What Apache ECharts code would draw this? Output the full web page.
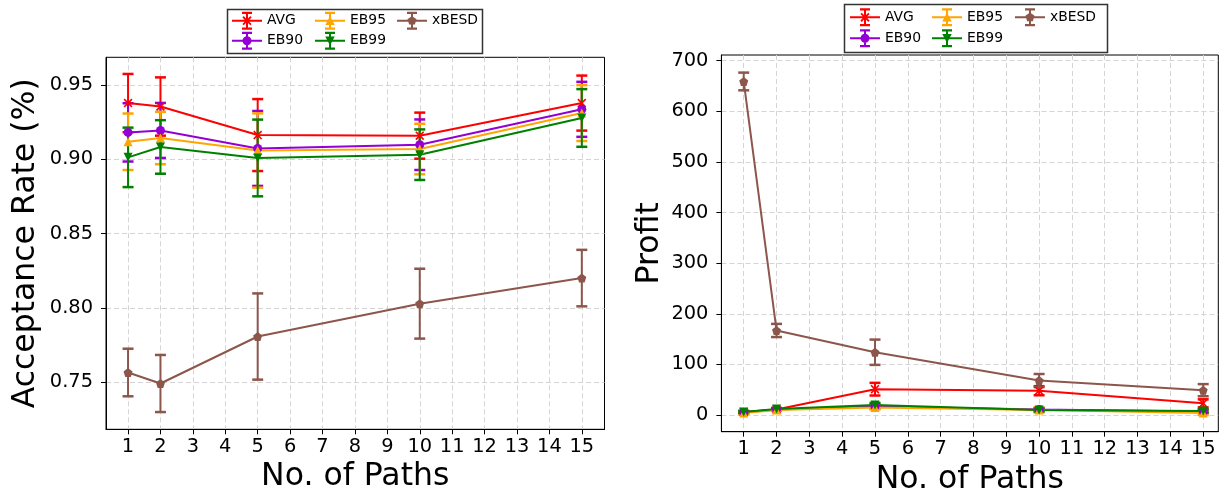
<!DOCTYPE html>
<html>
<head>
<meta charset="utf-8">
<title>Acceptance Rate and Profit vs. No. of Paths</title>
<script src="https://cdn.jsdelivr.net/npm/echarts@6/dist/echarts.min.js"></script>
<style>
  html, body { margin: 0; padding: 0; background: #ffffff; }
  #chart { width: 1227px; height: 494px; }
</style>
</head>
<body>
<div id="chart"></div>
<script>
// ---- data ----
const pathCounts = [1, 2, 5, 10, 15];
const seriesNames = ['AVG', 'EB90', 'EB95', 'EB99', 'xBESD'];

// acceptance rate (mean) and error half-width per method
const accAVG = [0.9377, 0.9354, 0.9162, 0.9158, 0.9377];
const accAVGErr = [0.0196, 0.0196, 0.0242, 0.0155, 0.0185];
const accEB90 = [0.9180, 0.9193, 0.9072, 0.9097, 0.9335];
const accEB90Err = [0.0196, 0.0185, 0.0252, 0.0170, 0.0185];
const accEB95 = [0.9117, 0.9142, 0.9058, 0.9068, 0.9310];
const accEB95Err = [0.0190, 0.0176, 0.0250, 0.0170, 0.0188];
const accEB99 = [0.9012, 0.9082, 0.9008, 0.9030, 0.9277];
const accEB99Err = [0.0200, 0.0180, 0.0258, 0.0170, 0.0194];
const accXBESD = [0.7565, 0.7491, 0.7807, 0.8028, 0.8200];
const accXBESDErr = [0.0160, 0.0192, 0.0290, 0.0235, 0.0190];

// profit (mean) and error half-width per method
const profAVG = [6, 11, 51, 48, 23];
const profAVGErr = [2, 2, 12.5, 9, 8];
const profEB90 = [5, 11, 17, 11, 7];
const profEB90Err = [2, 2, 4, 3, 3];
const profEB95 = [4, 10, 15, 10, 4];
const profEB95Err = [2, 2, 4, 5, 4];
const profEB99 = [6, 12, 20, 10, 8];
const profEB99Err = [2, 2, 4, 3, 3];
const profXBESD = [659, 167, 124, 68, 49];
const profXBESDErr = [17.5, 13, 25, 13, 12];

// tick labels
const xTicks = [1, 2, 3, 4, 5, 6, 7, 8, 9, 10, 11, 12, 13, 14, 15];
const accTicks = [0.75, 0.80, 0.85, 0.90, 0.95];
const profitTicks = [0, 100, 200, 300, 400, 500, 600, 700];

// ---- styling ----
const FONT = 'DejaVu Sans';
const colors = { AVG: '#ff0000', EB90: '#9400d3', EB95: '#ffa500', EB99: '#008000', xBESD: '#8c564b' };

// "x" marker outline centred on (cx, cy), half-size s, bar offset d
function xShape(cx, cy, s, d) {
  const pts = [[-s, -s + d], [-s + d, -s], [0, -d], [s - d, -s], [s, -s + d], [d, 0],
               [s, s - d], [s - d, s], [0, d], [-s + d, s], [-s, s - d], [-d, 0]];
  return 'M' + pts.map(p => (cx + p[0]).toFixed(2) + ',' + (cy + p[1]).toFixed(2)).join(' L') + ' Z';
}
function pentagonShape(cx, cy, r) {
  const pts = [];
  for (let k = 0; k < 5; k++) {
    const a = (-90 + 72 * k) * Math.PI / 180;
    pts.push([cx + r * Math.cos(a), cy + r * Math.sin(a)]);
  }
  return 'M' + pts.map(p => p[0].toFixed(2) + ',' + p[1].toFixed(2)).join(' L') + ' Z';
}

const markerSymbols = {
  AVG: 'path://' + xShape(5, 5, 5, 1.3),
  EB90: 'circle',
  EB95: 'triangle',
  EB99: 'triangle',
  xBESD: 'path://' + pentagonShape(5, 5, 5)
};
const markerRotate = { AVG: 0, EB90: 0, EB95: 0, EB99: 180, xBESD: 0 };

// legend glyph: line + error bar with caps + marker, in a 30x18 box
const legendBase = 'M0,8 H30 V10 H0 Z M14,1 H16 V17 H14 Z M10,0 H20 V2.3 H10 Z M10,15.7 H20 V18 H10 Z ';
const legendMarks = {
  AVG: xShape(15, 9, 4.6, 1.3),
  EB90: 'M15,4.5 A4.5,4.5 0 1 1 15,13.5 A4.5,4.5 0 1 1 15,4.5 Z',
  EB95: 'M15,4.3 L19.7,13.3 L10.3,13.3 Z',
  EB99: 'M10.3,4.7 L19.7,4.7 L15,13.7 Z',
  xBESD: pentagonShape(15, 9, 4.8)
};
const legendIcon = name => 'path://' + legendBase + legendMarks[name];

// ---- series builders ----
function errorBars(name, vals, errs, gi) {
  const color = colors[name];
  return {
    type: 'custom', name: name, xAxisIndex: gi, yAxisIndex: gi, silent: true,
    data: pathCounts.map((x, i) => [x, vals[i], errs[i]]),
    encode: { x: 0, y: 1 },
    itemStyle: { color: color },
    renderItem: function (params, api) {
      const x = api.value(0), y = api.value(1), e = api.value(2);
      const hi = api.coord([x, y + e]);
      const lo = api.coord([x, y - e]);
      const cw = 5.5;
      return {
        type: 'group',
        children: [
          { type: 'line', shape: { x1: hi[0], y1: hi[1], x2: lo[0], y2: lo[1] }, style: { stroke: color, lineWidth: 2 } },
          { type: 'line', shape: { x1: hi[0] - cw, y1: hi[1], x2: hi[0] + cw, y2: hi[1] }, style: { stroke: color, lineWidth: 2.5 } },
          { type: 'line', shape: { x1: lo[0] - cw, y1: lo[1], x2: lo[0] + cw, y2: lo[1] }, style: { stroke: color, lineWidth: 2.5 } }
        ]
      };
    }
  };
}
function meanLine(name, vals, gi) {
  const color = colors[name];
  return {
    type: 'line', name: name, xAxisIndex: gi, yAxisIndex: gi, silent: true,
    data: pathCounts.map((x, i) => [x, vals[i]]),
    symbol: markerSymbols[name], symbolSize: 9, symbolRotate: markerRotate[name],
    showAllSymbol: true,
    lineStyle: { color: color, width: 2 },
    itemStyle: { color: color, borderWidth: 0 }
  };
}

const accData = { AVG: [accAVG, accAVGErr], EB90: [accEB90, accEB90Err], EB95: [accEB95, accEB95Err],
                  EB99: [accEB99, accEB99Err], xBESD: [accXBESD, accXBESDErr] };
const profData = { AVG: [profAVG, profAVGErr], EB90: [profEB90, profEB90Err], EB95: [profEB95, profEB95Err],
                   EB99: [profEB99, profEB99Err], xBESD: [profXBESD, profXBESDErr] };

const series = [];
seriesNames.forEach(n => { series.push(meanLine(n, accData[n][0], 0)); series.push(errorBars(n, accData[n][0], accData[n][1], 0)); });
seriesNames.forEach(n => { series.push(meanLine(n, profData[n][0], 1)); series.push(errorBars(n, profData[n][0], profData[n][1], 1)); });

// ---- axes ----
const TITLE_SIZE = 31.5;
function xAxisFor(gi, max) {
  return {
    type: 'value', gridIndex: gi, min: 0.32, max: max,
    name: 'No. of Paths', nameLocation: 'middle', nameGap: 29,
    nameTextStyle: { fontFamily: FONT, fontSize: TITLE_SIZE, color: '#000' },
    axisLine: { show: true, onZero: false, lineStyle: { color: '#000', width: 1 } },
    axisTick: { show: true, length: 5, customValues: xTicks, lineStyle: { color: '#000', width: 1 } },
    axisLabel: { customValues: xTicks, fontFamily: FONT, fontSize: 19.4, color: '#000', margin: 8 },
    splitLine: { show: true, lineStyle: { color: '#d4d4d4', width: 1, type: [5, 3] } }
  };
}
function yAxisFor(gi, min, max, ticks, title, gap, fmt) {
  return {
    type: 'value', gridIndex: gi, min: min, max: max,
    name: title, nameLocation: 'middle', nameGap: gap,
    nameTextStyle: { fontFamily: FONT, fontSize: TITLE_SIZE, color: '#000' },
    axisLine: { show: true, onZero: false, lineStyle: { color: '#000', width: 1 } },
    axisTick: { show: true, length: 5, customValues: ticks, lineStyle: { color: '#000', width: 1 } },
    axisLabel: { customValues: ticks, fontFamily: FONT, fontSize: 19.4, color: '#000', margin: 13, formatter: fmt },
    splitLine: { show: true, lineStyle: { color: '#d4d4d4', width: 1, type: [5, 3] } }
  };
}

// ---- legends: three columns per panel ----
function legendColumn(names, left, top, gap) {
  return {
    orient: 'vertical', left: left, top: top, padding: 0,
    itemWidth: 30, itemHeight: 18, itemGap: gap, selectedMode: false,
    itemStyle: { borderWidth: 0 },
    textStyle: { fontFamily: FONT, fontSize: 13.9, color: '#000' },
    data: names.map(n => ({ name: n, icon: legendIcon(n) }))
  };
}

const option = {
  animation: false,
  backgroundColor: '#ffffff',
  grid: [
    { left: 106, right: 1227 - 604.5, top: 57.3, bottom: 494 - 429.3, outerBoundsMode: 'none', containLabel: false,
      show: true, borderColor: '#000', borderWidth: 1, backgroundColor: 'transparent' },
    { left: 721.4, right: 1227 - 1218.3, top: 55, bottom: 494 - 431.7, outerBoundsMode: 'none', containLabel: false,
      show: true, borderColor: '#000', borderWidth: 1, backgroundColor: 'transparent' }
  ],
  xAxis: [xAxisFor(0, 15.7), xAxisFor(1, 15.46)],
  yAxis: [
    yAxisFor(0, 0.7183, 0.9685, accTicks, 'Acceptance Rate (%)', 64, v => v.toFixed(2)),
    yAxisFor(1, -33, 711.3, profitTicks, 'Profit', 56, v => String(v))
  ],
  legend: [
    legendColumn(['AVG', 'EB90'], 232, 11.7, 2),
    legendColumn(['EB95', 'EB99'], 315, 11.7, 2),
    legendColumn(['xBESD'], 397, 11.7, 2),
    legendColumn(['AVG', 'EB90'], 850, 8.3, 3),
    legendColumn(['EB95', 'EB99'], 932, 8.3, 3),
    legendColumn(['xBESD'], 1015, 8.3, 3)
  ],
  graphic: [
    { type: 'rect', z: -1, shape: { x: 227.5, y: 9.5, width: 255, height: 44 }, style: { fill: '#ffffff', stroke: '#333333', lineWidth: 1.5 } },
    { type: 'rect', z: -1, shape: { x: 844.5, y: 4.5, width: 263, height: 48 }, style: { fill: '#ffffff', stroke: '#333333', lineWidth: 1.5 } }
  ],
  series: series
};

const chart = echarts.init(document.getElementById('chart'), null, { renderer: 'canvas' });
chart.setOption(option);
</script>
</body>
</html>
